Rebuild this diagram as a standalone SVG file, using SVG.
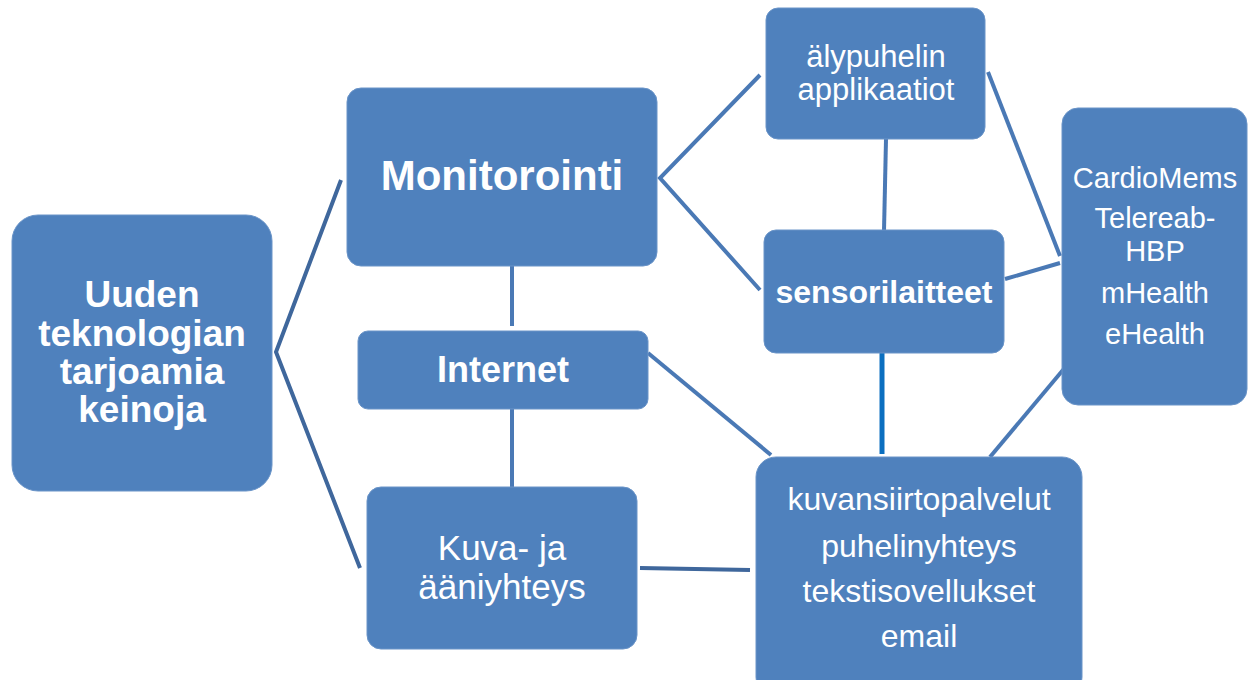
<svg xmlns="http://www.w3.org/2000/svg" width="1255" height="680" viewBox="0 0 1255 680">
<style>
.box{fill:#4f81bd;stroke:#6a94c8;stroke-width:1}
.t{font-family:"Liberation Sans",Arial,sans-serif;fill:#fff;text-anchor:middle}
.b{font-weight:bold}
.c{fill:none;stroke:#4a79b5;stroke-width:4;stroke-linecap:butt;stroke-linejoin:miter}
.d{stroke:#3f679c}
.v{stroke:#0b6fc0;stroke-width:5}
</style>
<rect width="1255" height="680" fill="#fff"/>
<g id="connectors">
<polyline class="c d" points="341,180 276,352 360,568"/>
<polyline class="c" points="760,75 660,178 760,290"/>
<line class="c" x1="886" y1="139" x2="884" y2="231"/>
<line class="c" x1="988" y1="72" x2="1060" y2="256"/>
<line class="c" x1="1005" y1="279" x2="1060" y2="263"/>
<line class="c" x1="512" y1="266" x2="512" y2="326"/>
<line class="c" x1="512" y1="409" x2="512" y2="488"/>
<line class="c" x1="648" y1="353" x2="771" y2="455"/>
<line class="c v" x1="882" y1="348" x2="882" y2="454"/>
<line class="c" x1="1068" y1="364" x2="990" y2="457"/>
<line class="c d" x1="640" y1="568" x2="750" y2="570"/>
</g>
<g id="n-uuden">
<rect class="box" x="12" y="215" width="260" height="276" rx="26"/>
<text class="t b" font-size="37"><tspan x="142" y="307">Uuden</tspan><tspan x="142" y="346">teknologian</tspan><tspan x="142" y="384">tarjoamia</tspan><tspan x="142" y="422">keinoja</tspan></text>
</g>
<g id="n-monitorointi">
<rect class="box" x="347" y="88" width="310" height="178" rx="14"/>
<text class="t b" font-size="42" x="502" y="190">Monitorointi</text>
</g>
<g id="n-internet">
<rect class="box" x="358" y="331" width="290" height="78" rx="10"/>
<text class="t b" font-size="36" x="503" y="382">Internet</text>
</g>
<g id="n-kuva">
<rect class="box" x="367" y="487" width="270" height="162" rx="14"/>
<text class="t" font-size="35"><tspan x="502" y="560">Kuva- ja</tspan><tspan x="502" y="599">ääniyhteys</tspan></text>
</g>
<g id="n-alypuhelin">
<rect class="box" x="766" y="8" width="219" height="131" rx="12"/>
<text class="t" font-size="31"><tspan x="876" y="67">älypuhelin</tspan><tspan x="876" y="100">applikaatiot</tspan></text>
</g>
<g id="n-sensori">
<rect class="box" x="764" y="230" width="240" height="123" rx="12"/>
<text class="t b" font-size="32" x="884" y="303">sensorilaitteet</text>
</g>
<g id="n-cardio">
<rect class="box" x="1062" y="108" width="185" height="297" rx="16"/>
<text class="t" font-size="29"><tspan x="1155" y="188">CardioMems</tspan><tspan x="1155" y="228">Telereab-</tspan><tspan x="1155" y="261">HBP</tspan><tspan x="1155" y="303">mHealth</tspan><tspan x="1155" y="344">eHealth</tspan></text>
</g>
<g id="n-kuvansiirto">
<rect class="box" x="756" y="457" width="326" height="240" rx="20"/>
<text class="t" font-size="32"><tspan x="919" y="510">kuvansiirtopalvelut</tspan><tspan x="919" y="557">puhelinyhteys</tspan><tspan x="919" y="602">tekstisovellukset</tspan><tspan x="919" y="647">email</tspan></text>
</g>
</svg>
